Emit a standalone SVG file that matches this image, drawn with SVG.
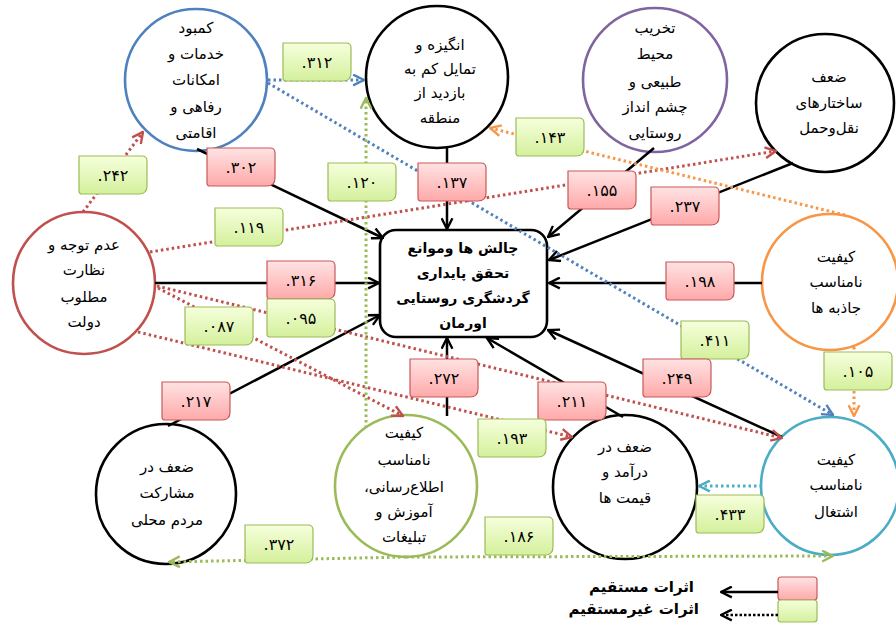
<svg xmlns="http://www.w3.org/2000/svg" xmlns:xlink="http://www.w3.org/1999/xlink" width="896" height="626" viewBox="0 0 896 626">
<defs>
<style>
.nt{font-family:"DejaVu Sans",sans-serif;font-size:15px;text-anchor:middle;direction:rtl;fill:#000}
.ct{font-weight:bold;font-size:14px}
.lt{font-family:"DejaVu Sans",sans-serif;font-size:16px;text-anchor:middle;direction:ltr;fill:#000}
.lgd{font-family:"DejaVu Sans",sans-serif;font-size:15px;font-weight:bold;text-anchor:start;direction:rtl;fill:#000}
.c{fill:#fff;stroke-width:2.6}
.d{stroke:#000;stroke-width:2.5;fill:none;marker-end:url(#ak)}
.i{stroke-width:3;stroke-dasharray:2.5 3;fill:none}
.lr{fill:url(#gr);stroke:#c9595a;stroke-width:1.2}
.lg{fill:url(#gg);stroke:#9bbb59;stroke-width:1.2}
</style>
<linearGradient id="gr" x1="0" y1="0" x2="0" y2="1"><stop offset="0" stop-color="#ffe3e3"/><stop offset="1" stop-color="#ffa9a9"/></linearGradient>
<linearGradient id="gg" x1="0" y1="0" x2="0" y2="1"><stop offset="0" stop-color="#f6ffdc"/><stop offset="1" stop-color="#d4f09c"/></linearGradient>
<path id="lb" d="M0,0 H63 Q68,0 68,5 V30 Q68,38 60,38 H3 Q0,38 0,35 Z"/>
<marker id="ak" viewBox="0 0 12 12" refX="11" refY="6" markerWidth="13" markerHeight="13" markerUnits="userSpaceOnUse" orient="auto"><path d="M1,1 L11,6 L1,11" fill="none" stroke="#000" stroke-width="2.2" stroke-dasharray="none"/></marker>
<marker id="ab" viewBox="0 0 12 12" refX="11" refY="6" markerWidth="13" markerHeight="13" markerUnits="userSpaceOnUse" orient="auto"><path d="M1,1 L11,6 L1,11" fill="none" stroke="#4f81bd" stroke-width="2.2"/></marker>
<marker id="ar" viewBox="0 0 12 12" refX="11" refY="6" markerWidth="13" markerHeight="13" markerUnits="userSpaceOnUse" orient="auto"><path d="M1,1 L11,6 L1,11" fill="none" stroke="#c0504d" stroke-width="2.2"/></marker>
<marker id="ag" viewBox="0 0 12 12" refX="11" refY="6" markerWidth="13" markerHeight="13" markerUnits="userSpaceOnUse" orient="auto"><path d="M1,1 L11,6 L1,11" fill="none" stroke="#9bbb59" stroke-width="2.2"/></marker>
<marker id="ao" viewBox="0 0 12 12" refX="11" refY="6" markerWidth="13" markerHeight="13" markerUnits="userSpaceOnUse" orient="auto"><path d="M1,1 L11,6 L1,11" fill="none" stroke="#f79646" stroke-width="2.2"/></marker>
<marker id="at" viewBox="0 0 12 12" refX="11" refY="6" markerWidth="13" markerHeight="13" markerUnits="userSpaceOnUse" orient="auto"><path d="M1,1 L11,6 L1,11" fill="none" stroke="#4bacc6" stroke-width="2.2"/></marker>
</defs>
<rect width="896" height="626" fill="#fff"/>

<g id="n-services">
<circle class="c" cx="196" cy="80" r="71" stroke="#4f81bd"/>
<text class="nt" x="196" y="33">کمبود</text>
<text class="nt" x="196" y="59">خدمات و</text>
<text class="nt" x="196" y="85">امکانات</text>
<text class="nt" x="196" y="112">رفاهی و</text>
<text class="nt" x="196" y="138">اقامتی</text>
</g>
<g id="n-motivation">
<circle class="c" cx="437" cy="77" r="71" stroke="#000"/>
<text class="nt" x="440" y="50">انگیزه و</text>
<text class="nt" x="440" y="74">تمایل کم به</text>
<text class="nt" x="440" y="98">بازدید از</text>
<text class="nt" x="440" y="123">منطقه</text>
</g>
<g id="n-environment">
<circle class="c" cx="655" cy="80" r="72" stroke="#8064a2"/>
<text class="nt" x="655" y="33">تخریب</text>
<text class="nt" x="655" y="59">محیط</text>
<text class="nt" x="655" y="87">طبیعی و</text>
<text class="nt" x="655" y="112">چشم انداز</text>
<text class="nt" x="655" y="138">روستایی</text>
</g>
<g id="n-transport">
<circle class="c" cx="825" cy="103" r="69" stroke="#000"/>
<text class="nt" x="829" y="82">ضعف</text>
<text class="nt" x="829" y="108">ساختارهای</text>
<text class="nt" x="829" y="133">نقل‌وحمل</text>
</g>
<g id="n-attractions">
<circle class="c" cx="830" cy="282" r="68" stroke="#f79646"/>
<text class="nt" x="836" y="262">کیفیت</text>
<text class="nt" x="836" y="287">نامناسب</text>
<text class="nt" x="836" y="313">جاذبه ها</text>
</g>
<g id="n-government">
<circle class="c" cx="84" cy="283" r="71" stroke="#c0504d"/>
<text class="nt" x="84" y="250">عدم توجه و</text>
<text class="nt" x="84" y="275">نظارت</text>
<text class="nt" x="84" y="302">مطلوب</text>
<text class="nt" x="84" y="327">دولت</text>
</g>
<g id="n-participation">
<circle class="c" cx="166" cy="494" r="70" stroke="#000"/>
<text class="nt" x="167" y="472">ضعف در</text>
<text class="nt" x="167" y="498">مشارکت</text>
<text class="nt" x="167" y="525">مردم محلی</text>
</g>
<g id="n-information">
<circle class="c" cx="406" cy="486" r="71" stroke="#9bbb59"/>
<text class="nt" x="404" y="438">کیفیت</text>
<text class="nt" x="404" y="465">نامناسب</text>
<text class="nt" x="404" y="492">اطلاع‌رسانی،</text>
<text class="nt" x="404" y="517">آموزش و</text>
<text class="nt" x="404" y="542">تبلیغات</text>
</g>
<g id="n-income">
<circle class="c" cx="625" cy="487" r="72" stroke="#000"/>
<text class="nt" x="625" y="452">ضعف در</text>
<text class="nt" x="625" y="477">درآمد و</text>
<text class="nt" x="625" y="503">قیمت ها</text>
</g>
<g id="n-employment">
<circle class="c" cx="830" cy="486" r="69" stroke="#4bacc6"/>
<text class="nt" x="836" y="465">کیفیت</text>
<text class="nt" x="836" y="490">نامناسب</text>
<text class="nt" x="836" y="517">اشتغال</text>
</g>
<g id="n-center">
<rect x="380" y="230" width="167" height="107" rx="16" fill="#fff" stroke="#000" stroke-width="2.6"/>
<text class="nt ct" x="463" y="253">چالش ها وموانع</text>
<text class="nt ct" x="463" y="278">تحقق پایداری</text>
<text class="nt ct" x="463" y="303">گردشگری روستایی</text>
<text class="nt ct" x="463" y="328">اورمان</text>
</g>

<g id="connectors">
<line class="d" x1="197" y1="149" x2="383" y2="238"/>
<line class="d" x1="447" y1="147" x2="447" y2="229"/>
<line class="d" x1="654" y1="148" x2="548" y2="237"/>
<line class="d" x1="793" y1="163" x2="549" y2="260"/>
<line class="d" x1="762" y1="283" x2="549" y2="283"/>
<line class="d" x1="155" y1="283" x2="379" y2="283"/>
<line class="d" x1="168" y1="426" x2="380" y2="315"/>
<line class="d" x1="447" y1="416" x2="447" y2="338"/>
<line class="d" x1="623" y1="417" x2="487" y2="338"/>
<line class="d" x1="782" y1="437" x2="548" y2="330"/>

<line class="i" stroke="#4f81bd" marker-end="url(#ab)" x1="268" y1="80" x2="364" y2="80"/>
<line class="i" stroke="#4f81bd" marker-end="url(#ab)" x1="268" y1="83" x2="833" y2="415"/>

<line class="i" stroke="#c0504d" marker-end="url(#ar)" x1="83" y1="212" x2="143" y2="132"/>
<line class="i" stroke="#c0504d" marker-end="url(#ar)" x1="150" y1="252" x2="776" y2="151"/>
<line class="i" stroke="#c0504d" marker-end="url(#ar)" x1="157" y1="286" x2="782" y2="438"/>
<line class="i" stroke="#c0504d" marker-end="url(#ar)" x1="158" y1="288" x2="403" y2="416"/>
<line class="i" stroke="#c0504d" marker-end="url(#ar)" x1="138" y1="332" x2="572" y2="437"/>

<line class="i" stroke="#9bbb59" marker-end="url(#ag)" x1="366" y1="428" x2="366" y2="98"/>
<line class="i" stroke="#9bbb59" marker-end="url(#ag)" x1="406" y1="557" x2="169" y2="562"/>
<line class="i" stroke="#9bbb59" marker-end="url(#ag)" x1="406" y1="557" x2="833" y2="556"/>

<line class="i" stroke="#f79646" marker-end="url(#ao)" x1="845" y1="215" x2="490" y2="128"/>
<line class="i" stroke="#f79646" marker-end="url(#ao)" x1="854" y1="347" x2="854" y2="416"/>

<line class="i" stroke="#4bacc6" marker-end="url(#at)" x1="762" y1="486" x2="699" y2="486"/>
</g>

<g id="labels">
<use href="#lb" class="lg" x="283" y="43"/><text class="lt" x="317" y="68">.۳۱۲</text>
<use href="#lb" class="lg" x="79" y="156"/><text class="lt" x="113" y="181">.۲۴۲</text>
<use href="#lb" class="lr" x="207" y="148"/><text class="lt" x="241" y="173">.۳۰۲</text>
<use href="#lb" class="lg" x="328" y="163"/><text class="lt" x="362" y="188">.۱۲۰</text>
<use href="#lb" class="lr" x="418" y="163"/><text class="lt" x="452" y="188">.۱۳۷</text>
<use href="#lb" class="lg" x="215" y="208"/><text class="lt" x="249" y="233">.۱۱۹</text>
<use href="#lb" class="lg" x="516" y="118"/><text class="lt" x="550" y="143">.۱۴۳</text>
<use href="#lb" class="lr" x="568" y="171"/><text class="lt" x="602" y="196">.۱۵۵</text>
<use href="#lb" class="lr" x="651" y="187"/><text class="lt" x="685" y="212">.۲۳۷</text>
<use href="#lb" class="lr" x="267" y="261"/><text class="lt" x="301" y="286">.۳۱۶</text>
<use href="#lb" class="lg" x="267" y="299"/><text class="lt" x="301" y="324">.۰۹۵</text>
<use href="#lb" class="lg" x="185" y="307"/><text class="lt" x="219" y="332">.۰۸۷</text>
<use href="#lb" class="lr" x="162" y="382"/><text class="lt" x="196" y="407">.۲۱۷</text>
<use href="#lb" class="lr" x="666" y="262"/><text class="lt" x="700" y="287">.۱۹۸</text>
<use href="#lb" class="lg" x="681" y="321"/><text class="lt" x="715" y="346">.۴۱۱</text>
<use href="#lb" class="lg" x="824" y="352"/><text class="lt" x="858" y="377">.۱۰۵</text>
<use href="#lb" class="lr" x="643" y="359"/><text class="lt" x="677" y="384">.۲۴۹</text>
<use href="#lb" class="lr" x="410" y="359"/><text class="lt" x="444" y="384">.۲۷۲</text>
<use href="#lb" class="lr" x="538" y="382"/><text class="lt" x="572" y="407">.۲۱۱</text>
<use href="#lb" class="lg" x="478" y="419"/><text class="lt" x="512" y="444">.۱۹۳</text>
<use href="#lb" class="lg" x="696" y="495"/><text class="lt" x="730" y="520">.۴۳۳</text>
<use href="#lb" class="lg" x="485" y="517"/><text class="lt" x="519" y="542">.۱۸۶</text>
<use href="#lb" class="lg" x="245" y="525"/><text class="lt" x="279" y="550">.۳۷۲</text>
</g>

<g id="legend">
<rect x="778" y="577" width="39" height="23" rx="3" class="lr"/>
<rect x="778" y="600" width="39" height="22" rx="3" class="lg"/>
<line x1="778" y1="592" x2="721" y2="592" stroke="#000" stroke-width="2.5" marker-end="url(#ak)"/>
<line x1="778" y1="615" x2="721" y2="615" stroke="#000" stroke-width="2.5" stroke-dasharray="2.5 2" marker-end="url(#ak)"/>
<text class="lgd" x="694" y="592">اثرات مستقیم</text>
<text class="lgd" x="699" y="614">اثرات غیرمستقیم</text>
</g>
</svg>
